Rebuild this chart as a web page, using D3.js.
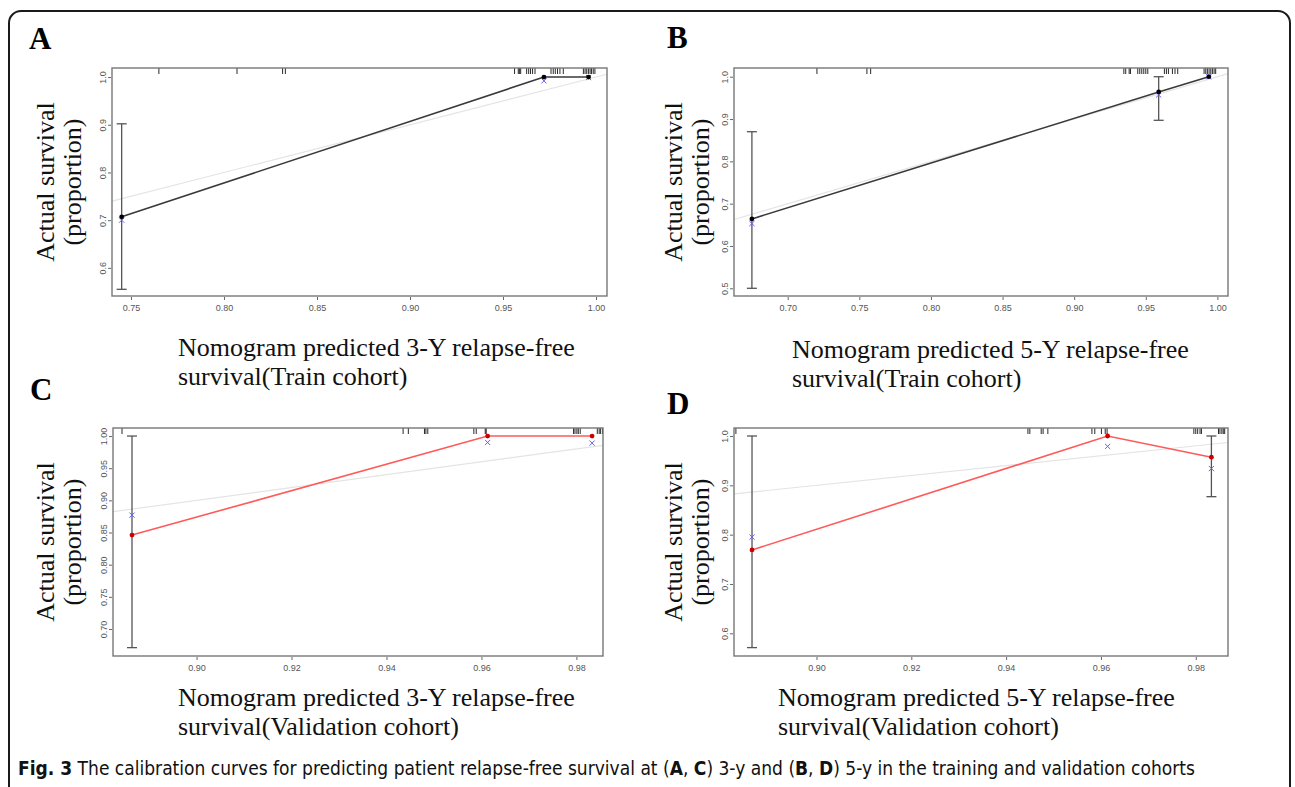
<!DOCTYPE html>
<html>
<head>
<meta charset="utf-8">
<script src="https://cdn.jsdelivr.net/npm/d3@7"></script>
<style>
  body { margin: 0; background: #fff; }
  svg { display: block; }
</style>
</head>
<body>
<script>

// _____________ data

// A : 3-Y, train cohort
var predA = [0.745, 0.972, 0.996]
var obsA = [0.707, 1.000, 1.000]
var loA = [0.555, null, null]
var hiA = [0.902, null, null]
var kmA = [0.700, 0.992, 0.999]
var rugA = [0.765, 0.807, 0.8315, 0.833,
  0.9562, 0.9582, 0.9588, 0.9595, 0.9627, 0.9638, 0.9648, 0.9659, 0.9672,
  0.9758, 0.9770, 0.9781, 0.9793, 0.9806, 0.9824,
  0.9932, 0.9941, 0.9950, 0.9959, 0.9968, 0.9976, 0.9985, 0.9994]
var xTicksA = [0.75, 0.80, 0.85, 0.90, 0.95, 1.00]
var yTicksA = [0.6, 0.7, 0.8, 0.9, 1.0]

// B : 5-Y, train cohort
var predB = [0.675, 0.959, 0.994]
var obsB = [0.664, 0.964, 1.000]
var loB = [0.500, 0.897, null]
var hiB = [0.870, 1.000, null]
var kmB = [0.653, 0.957, 1.000]
var rugB = [0.7204, 0.7553, 0.7579,
  0.9347, 0.9360, 0.9384, 0.9393,
  0.9444, 0.9458, 0.9472, 0.9486, 0.9500, 0.9514,
  0.9630, 0.9644, 0.9658, 0.9686, 0.9704, 0.9723,
  0.9907, 0.9919, 0.9930, 0.9942, 0.9954, 0.9965, 0.9977, 0.9988]
var xTicksB = [0.70, 0.75, 0.80, 0.85, 0.90, 0.95, 1.00]
var yTicksB = [0.5, 0.6, 0.7, 0.8, 0.9, 1.0]

// C : 3-Y, validation cohort
var predC = [0.8864, 0.9613, 0.9833]
var obsC = [0.846, 1.000, 1.000]
var loC = [0.671, null, null]
var hiC = [1.000, null, null]
var kmC = [0.877, 0.990, 0.989]
var rugC = [0.8843, 0.9435, 0.9446, 0.9480, 0.9483, 0.9487,
  0.9584, 0.9589, 0.9608, 0.9610,
  0.9794, 0.9797, 0.9801, 0.9804, 0.9808,
  0.9844, 0.9848, 0.9851, 0.9855]
var xTicksC = [0.90, 0.92, 0.94, 0.96, 0.98]
var yTicksC = [0.70, 0.75, 0.80, 0.85, 0.90, 0.95, 1.00]

// D : 5-Y, validation cohort
var predD = [0.8864, 0.9614, 0.9833]
var obsD = [0.769, 1.000, 0.957]
var loD = [0.571, null, 0.877]
var hiD = [1.000, null, 1.000]
var kmD = [0.795, 0.979, 0.934]
var rugD = [0.8830, 0.9446, 0.9450, 0.9474, 0.9478, 0.9488,
  0.9581, 0.9587, 0.9601, 0.9609, 0.9613,
  0.9796, 0.9800, 0.9804, 0.9809, 0.9812,
  0.9848, 0.9851, 0.9855, 0.9858, 0.9861]
var xTicksD = [0.90, 0.92, 0.94, 0.96, 0.98]
var yTicksD = [0.6, 0.7, 0.8, 0.9, 1.0]

var panelLetters = ['A', 'B', 'C', 'D']
var xTitles = [
  ['Nomogram predicted 3-Y relapse-free', 'survival(Train cohort)'],
  ['Nomogram predicted 5-Y relapse-free', 'survival(Train cohort)'],
  ['Nomogram predicted 3-Y relapse-free', 'survival(Validation cohort)'],
  ['Nomogram predicted 5-Y relapse-free', 'survival(Validation cohort)']
]
var yTitle = ['Actual survival', '(proportion)']
var captionParts = [
  ['Fig. 3', true],
  [' The calibration curves for predicting patient relapse-free survival at (', false],
  ['A', true], [', ', false], ['C', true], [') 3-y and (', false],
  ['B', true], [', ', false], ['D', true], [') 5-y in the training and validation cohorts', false]
]

// _____________ layout

var W = 1295, H = 787
var serif = '"Liberation Serif", "Times New Roman", serif'
var sans = '"Liberation Sans", Arial, sans-serif'

var panels = [
  { pred: predA, obs: obsA, lo: loA, hi: hiA, km: kmA, rug: rugA, xt: xTicksA, yt: yTicksA, xf: '.2f', yf: '.1f',
    box: [112, 68, 607, 296], xd: [0.7398, 1.0059], yd: [0.541, 1.019], line: '#3a3a3a', dot: '#000',
    letter: [29, 49], xlab: [178, 356], ylab: [54, 182] },
  { pred: predB, obs: obsB, lo: loB, hi: hiB, km: kmB, rug: rugB, xt: xTicksB, yt: yTicksB, xf: '.2f', yf: '.1f',
    box: [734, 68, 1228, 296], xd: [0.6625, 1.0074], yd: [0.4818, 1.0206], line: '#3a3a3a', dot: '#000',
    letter: [667, 48], xlab: [792, 358], ylab: [682, 182] },
  { pred: predC, obs: obsC, lo: loC, hi: hiC, km: kmC, rug: rugC, xt: xTicksC, yt: yTicksC, xf: '.2f', yf: '.2f',
    box: [113, 428, 603, 656], xd: [0.8824, 0.9856], yd: [0.658, 1.0125], line: '#ff5a5a', dot: '#cc0000',
    letter: [30, 400], xlab: [178, 706], ylab: [54, 542] },
  { pred: predD, obs: obsD, lo: loD, hi: hiD, km: kmD, rug: rugD, xt: xTicksD, yt: yTicksD, xf: '.2f', yf: '.1f',
    box: [734, 428, 1228, 656], xd: [0.8826, 0.9868], yd: [0.554, 1.0162], line: '#ff5a5a', dot: '#cc0000',
    letter: [667, 414], xlab: [778, 706], ylab: [682, 542] }
]

var svg = d3.select('body').append('svg')
  .attr('width', W)
  .attr('height', H)

// outer rounded frame (runs off the bottom)
svg.append('rect')
  .attr('x', 9).attr('y', 11)
  .attr('width', 1281).attr('height', 820)
  .attr('rx', 12)
  .attr('fill', 'none')
  .attr('stroke', '#1a1a1a')
  .attr('stroke-width', 2)

var defs = svg.append('defs')

panels.forEach(function (p, i) {
  var x0 = p.box[0], y0 = p.box[1], x1 = p.box[2], y1 = p.box[3]
  var x = d3.scaleLinear().domain(p.xd).range([x0, x1])
  var y = d3.scaleLinear().domain(p.yd).range([y1, y0])
  var g = svg.append('g').attr('class', 'panel panel-' + panelLetters[i])

  defs.append('clipPath').attr('id', 'clip' + i)
    .append('rect')
      .attr('x', x0).attr('y', y0)
      .attr('width', x1 - x0).attr('height', y1 - y0)

  // axes
  var xAxis = d3.axisBottom(x).tickValues(p.xt).tickFormat(d3.format(p.xf)).tickSize(3).tickPadding(5)
  var yAxis = d3.axisLeft(y).tickValues(p.yt).tickFormat(d3.format(p.yf)).tickSize(3)

  var gx = g.append('g')
    .attr('transform', 'translate(0,' + (y1 + 1) + ')')
    .call(xAxis)
  var gy = g.append('g')
    .attr('transform', 'translate(' + (x0 - 1) + ',0)')
    .call(yAxis)

  ;[gx, gy].forEach(function (ax) {
    ax.select('.domain').remove()
    ax.selectAll('line').attr('stroke', '#666')
    ax.selectAll('text')
      .attr('fill', '#555')
      .style('font-family', sans)
      .style('font-size', '9px')
  })
  gy.selectAll('.tick text')
    .attr('text-anchor', 'middle')
    .attr('x', null).attr('dy', null)
    .attr('transform', 'translate(-5,0) rotate(-90)')

  // ideal line
  var plot = g.append('g').attr('clip-path', 'url(#clip' + i + ')')
  plot.append('line')
    .attr('x1', x(p.xd[0])).attr('y1', y(p.xd[0]))
    .attr('x2', x(p.xd[1])).attr('y2', y(p.xd[1]))
    .attr('stroke', '#e4e4e4')
    .attr('stroke-width', 1.2)

  // rug of predicted values
  plot.selectAll('line.rug')
    .data(p.rug)
    .enter()
      .append('line')
        .attr('class', 'rug')
        .attr('x1', function (d) { return x(d) })
        .attr('x2', function (d) { return x(d) })
        .attr('y1', y0)
        .attr('y2', y0 + 6)
        .attr('stroke', '#111')
        .attr('stroke-width', 0.9)

  var pts = p.pred.map(function (d, k) {
    return { x: d, y: p.obs[k], lo: p.lo[k], hi: p.hi[k], km: p.km[k] }
  })

  // error bars
  var bars = g.selectAll('g.bar')
    .data(pts.filter(function (d) { return d.lo != null }))
    .enter()
      .append('g').attr('class', 'bar')
  bars.append('line')
    .attr('x1', function (d) { return x(d.x) }).attr('x2', function (d) { return x(d.x) })
    .attr('y1', function (d) { return y(d.lo) }).attr('y2', function (d) { return y(d.hi) })
  bars.append('line')
    .attr('x1', function (d) { return x(d.x) - 5 }).attr('x2', function (d) { return x(d.x) + 5 })
    .attr('y1', function (d) { return y(d.lo) }).attr('y2', function (d) { return y(d.lo) })
  bars.append('line')
    .attr('x1', function (d) { return x(d.x) - 5 }).attr('x2', function (d) { return x(d.x) + 5 })
    .attr('y1', function (d) { return y(d.hi) }).attr('y2', function (d) { return y(d.hi) })
  bars.selectAll('line')
    .attr('stroke', '#555')
    .attr('stroke-width', 1.3)

  // calibration curve
  g.append('path')
    .datum(pts)
    .attr('d', d3.line().x(function (d) { return x(d.x) }).y(function (d) { return y(d.y) }))
    .attr('fill', 'none')
    .attr('stroke', p.line)
    .attr('stroke-width', 1.6)

  // KM-corrected estimates (blue x)
  g.selectAll('path.km')
    .data(pts)
    .enter()
      .append('path')
        .attr('class', 'km')
        .attr('d', function (d) {
          var cx = x(d.x), cy = y(d.km), s = 2.6
          return 'M' + (cx - s) + ',' + (cy - s) + 'L' + (cx + s) + ',' + (cy + s) +
                 'M' + (cx - s) + ',' + (cy + s) + 'L' + (cx + s) + ',' + (cy - s)
        })
        .attr('stroke', '#6060ff')
        .attr('stroke-width', 1)

  g.selectAll('circle.pt')
    .data(pts)
    .enter()
      .append('circle')
        .attr('class', 'pt')
        .attr('cx', function (d) { return x(d.x) })
        .attr('cy', function (d) { return y(d.y) })
        .attr('r', 2.4)
        .attr('fill', p.dot)

  // box
  g.append('rect')
    .attr('x', x0).attr('y', y0)
    .attr('width', x1 - x0).attr('height', y1 - y0)
    .attr('fill', 'none')
    .attr('stroke', '#777')
    .attr('stroke-width', 1.4)

  // titles
  g.append('text')
    .attr('x', p.letter[0]).attr('y', p.letter[1])
    .style('font-family', serif)
    .style('font-weight', 'bold')
    .style('font-size', '31px')
    .text(panelLetters[i])

  g.selectAll('text.xlab')
    .data(xTitles[i])
    .enter()
      .append('text')
        .attr('class', 'xlab')
        .attr('x', p.xlab[0])
        .attr('y', function (d, k) { return p.xlab[1] + k * 29 })
        .style('font-family', serif)
        .style('font-size', '26px')
        .attr('fill', '#111')
        .text(function (d) { return d })

  g.selectAll('text.ylab')
    .data(yTitle)
    .enter()
      .append('text')
        .attr('class', 'ylab')
        .attr('text-anchor', 'middle')
        .attr('transform', function (d, k) {
          return 'translate(' + (p.ylab[0] + k * 27) + ',' + p.ylab[1] + ') rotate(-90)'
        })
        .style('font-family', serif)
        .style('font-size', '26px')
        .attr('fill', '#111')
        .text(function (d) { return d })
})

// _____________ caption
var cap = svg.append('text')
  .attr('x', 18).attr('y', 775)
  .style('font-family', '"DejaVu Sans", sans-serif')
  .style('font-stretch', 'condensed')
  .style('font-size', '20px')
  .attr('fill', '#111')
cap.selectAll('tspan')
  .data(captionParts)
  .enter()
    .append('tspan')
      .style('font-weight', function (d) { return d[1] ? 'bold' : 'normal' })
      .text(function (d) { return d[0] })

// fit caption to the width it takes in the figure
var capW = cap.node().getComputedTextLength()
cap.style('font-size', (20 * 1177 / capW).toFixed(2) + 'px')

</script>
</body>
</html>
